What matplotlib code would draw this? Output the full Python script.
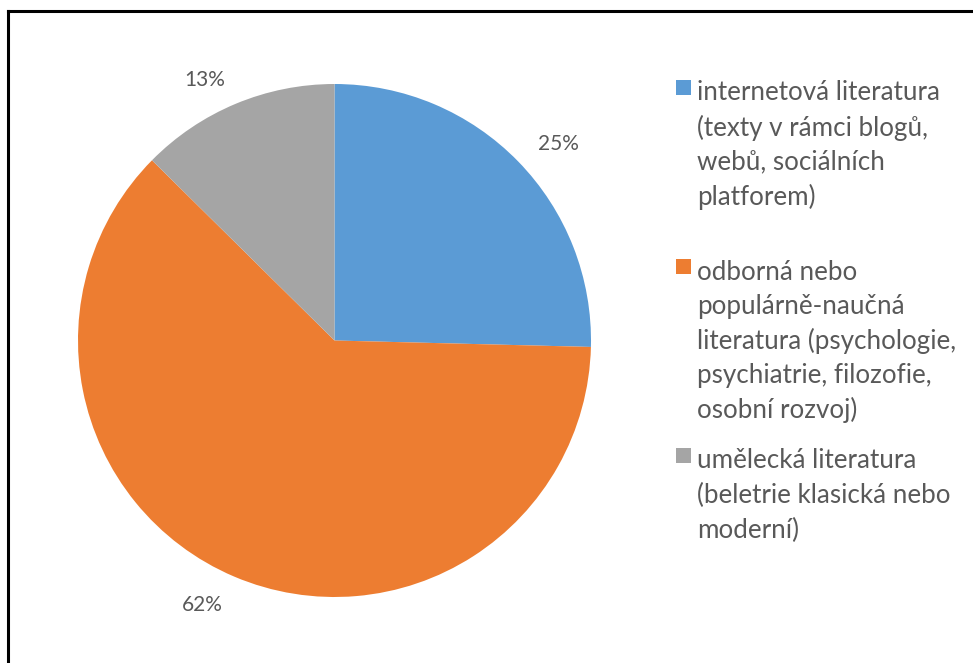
import matplotlib
matplotlib.use("Agg")
import numpy as np
import matplotlib.pyplot as plt
from matplotlib.patches import Rectangle
from matplotlib.lines import Line2D

categories = [
    "internetová literatura\n(texty v rámci blogů,\nwebů, sociálních\nplatforem)",
    "odborná nebo\npopulárně-naučná\nliteratura (psychologie,\npsychiatrie, filozofie,\nosobní rozvoj)",
    "umělecká literatura\n(beletrie klasická nebo\nmoderní)",
]
values = [25.4, 62.0, 12.6]
colors = ["#5B9BD5", "#ED7D31", "#A5A5A5"]

W, H = 973, 663
TXT = "#595959"
plt.rcParams['font.family'] = ['Lato', 'DejaVu Sans']
fig = plt.figure(figsize=(W / 100, H / 100), dpi=100)
fig.patch.set_facecolor("white")

cx, cy, r = 334.5, 340.5, 256.5
ax = fig.add_axes([(cx - r) / W, (H - cy - r) / H, 2 * r / W, 2 * r / H])
wedges, texts, autotexts = ax.pie(
    values, colors=colors, startangle=90, counterclock=False,
    autopct='%.0f%%', pctdistance=1.1, radius=1,
    wedgeprops=dict(linewidth=0),
    textprops=dict(color=TXT, fontsize=15),
)
# Excel-style outside-end labels: anchored on the side facing the pie
for w, t in zip(wedges, autotexts):
    th = np.deg2rad((w.theta1 + w.theta2) / 2)
    c, s = np.cos(th), np.sin(th)
    t.set_position((1.11 * c, 1.11 * s))
    t.set_ha('left' if c > 0 else 'right')
    t.set_va('center_baseline')

ax.set_xlim(-1, 1)
ax.set_ylim(-1, 1)
ax.set_aspect('equal')
ax.axis('off')

# border lines (top and left)
fig.add_artist(Line2D([7.5 / W, 1], [1 - 11 / H, 1 - 11 / H], color="black", lw=2.2, transform=fig.transFigure))
fig.add_artist(Line2D([8 / W, 8 / W], [0, 1 - 11 / H], color="black", lw=2.2, transform=fig.transFigure))

# legend
entry_tops = [93, 272, 461]
line_h = 34.5
for lab, col, ytop in zip(categories, colors, entry_tops):
    fig.add_artist(Rectangle((676 / W, 1 - (ytop + 2) / H), 15 / W, 15 / H,
                             facecolor=col, edgecolor='none', transform=fig.transFigure))
    for i, line in enumerate(lab.split("\n")):
        fig.text(697 / W, 1 - (ytop + i * line_h) / H, line, fontsize=18.7,
                 color=TXT, va='center', ha='left')

fig.savefig("out.png", dpi=100, facecolor="white")
